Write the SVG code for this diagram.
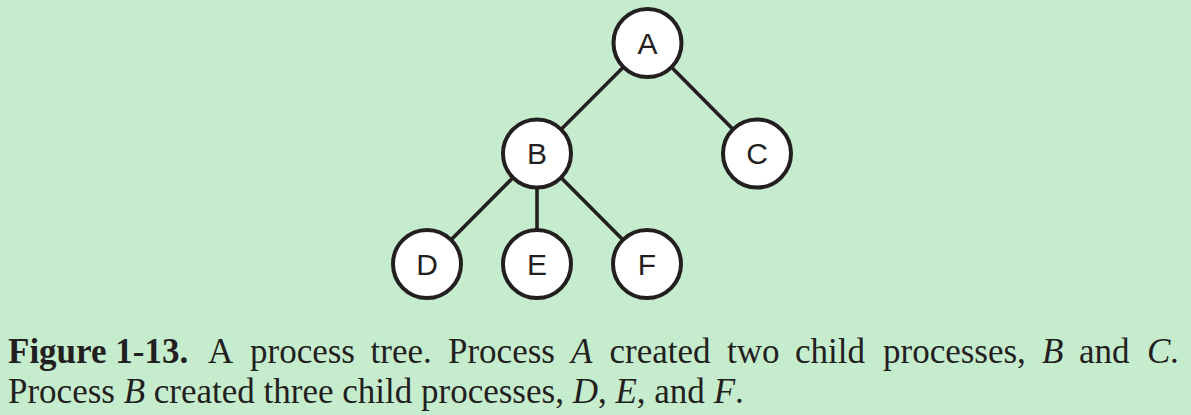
<svg xmlns="http://www.w3.org/2000/svg" width="1191" height="415" viewBox="0 0 1191 415">
<style>
.bg{fill:#c6ecce}
.edge{stroke:#231f20;stroke-width:3.6;fill:none}
.node circle{fill:#ffffff;stroke:#231f20;stroke-width:4}
.node text{font-family:"Liberation Sans",Arial,sans-serif;font-size:30px;fill:#231f20;text-anchor:middle}
.cap{font-family:"Liberation Serif","Times New Roman",serif;font-size:35px;fill:#231f20}
.b{font-weight:bold}
.i{font-style:italic}
</style>
<rect class="bg" x="0" y="0" width="1191" height="415"/>
<g id="connectors">
<line class="edge" x1="647.5" y1="43" x2="537" y2="153.5"/>
<line class="edge" x1="647.5" y1="43" x2="757" y2="153.5"/>
<line class="edge" x1="537" y1="153.5" x2="427" y2="264"/>
<line class="edge" x1="537" y1="153.5" x2="537" y2="264"/>
<line class="edge" x1="537" y1="153.5" x2="647" y2="264"/>
</g>
<g id="node-A" class="node"><circle cx="647.5" cy="43" r="34"/><text x="647.5" y="53.7">A</text></g>
<g id="node-B" class="node"><circle cx="537" cy="153.5" r="34"/><text x="537" y="164.2">B</text></g>
<g id="node-C" class="node"><circle cx="757" cy="153.5" r="34"/><text x="757" y="164.2">C</text></g>
<g id="node-D" class="node"><circle cx="427" cy="264" r="34"/><text x="427" y="274.7">D</text></g>
<g id="node-E" class="node"><circle cx="537" cy="264" r="34"/><text x="537" y="274.7">E</text></g>
<g id="node-F" class="node"><circle cx="647" cy="264" r="34"/><text x="647" y="274.7">F</text></g>
<g id="caption">
<text class="cap" y="363"><tspan x="8" class="b">Figure 1-13.</tspan><tspan x="208">A</tspan><tspan x="250">process</tspan><tspan x="370.5">tree.</tspan><tspan x="448">Process</tspan><tspan x="571" class="i">A</tspan><tspan x="609.5">created</tspan><tspan x="727">two</tspan><tspan x="795">child</tspan><tspan x="883">processes,</tspan><tspan x="1042" class="i">B</tspan><tspan x="1079">and</tspan><tspan x="1147" class="i">C</tspan><tspan x="1170">.</tspan></text>
<text class="cap" x="8" y="403">Process <tspan class="i">B</tspan> created three child processes, <tspan class="i">D</tspan>, <tspan class="i">E</tspan>, and <tspan class="i">F</tspan>.</text>
</g>
</svg>
